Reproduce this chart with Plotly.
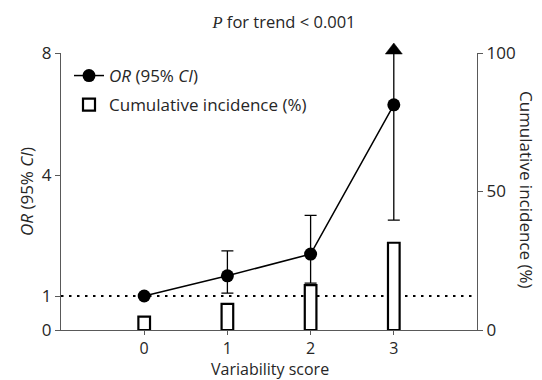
import numpy as np
import plotly.graph_objects as go

# ---- data ----
scores = [0, 1, 2, 3]
or_values = [1.00, 1.50, 2.04, 6.30]
ci_lower = [1.00, 1.07, 1.32, 2.88]
ci_upper = [1.00, 2.12, 3.00, None]   # None -> beyond axis (arrow)
incidence = [4.8, 9.4, 16.2, 31.5]
y_ticks = [0, 1, 4, 8]
y2_ticks = [0, 50, 100]

# segmented (piecewise) left axis as in the original figure
seg_vals = [0, 1, 4, 8]
seg_pos = [0, 34, 155, 277]


def seg(v):
    return float(np.interp(v, seg_vals, seg_pos))


top = seg(y_ticks[-1])
y_t = [seg(v) for v in or_values]
err_up = [(seg(u) if u is not None else top) - yt for u, yt in zip(ci_upper, y_t)]
err_dn = [yt - seg(lo) for lo, yt in zip(ci_lower, y_t)]
arrow_x = [s for s, u in zip(scores, ci_upper) if u is None]

FONT = "Open Sans"
TXT = "#262626"
AX = "#595959"
FS = 17
TFS = 16

# the page adds an 8px body margin; size the figure to the visible window
OFF = 8
W, H = 542 - OFF, 380 - OFF
ML, MT = 61 - OFF, 53 - OFF
MR, MB = W - (477 - OFF), H - (330 - OFF)
PW, PH = W - ML - MR, H - MT - MB
XR = [-1, 4]


def px_x(sx):  # screen x -> paper x
    return (sx - OFF - ML) / PW


def px_y(sy):  # screen y -> paper y
    return 1 - (sy - OFF - MT) / PH


fig = go.Figure()

fig.add_trace(go.Bar(
    x=scores, y=incidence, yaxis="y2", width=0.14,
    marker=dict(color="white", line=dict(color="black", width=2.2)),
    name="Cumulative incidence (%)", legendrank=2, legendgroup="b",
))

fig.add_trace(go.Scatter(
    x=scores, y=y_t, mode="lines+markers",
    line=dict(color="black", width=1.5),
    marker=dict(color="black", size=13),
    error_y=dict(type="data", array=err_up, arrayminus=err_dn,
                 color="black", thickness=1.3, width=6),
    name="<i>OR</i> (95% <i>CI</i>)", legendrank=1, legendgroup="a",
))

# arrow heads for CIs that run beyond the axis (drawn just above the plot top)
half_w = 8.5 / PW * (XR[1] - XR[0])
for ax_ in arrow_x:
    fig.add_shape(type="path", xref="x", yref="y domain", layer="above",
                  path=f"M {ax_ - half_w},{1 - 1 / PH} L {ax_ + half_w},{1 - 1 / PH} "
                       f"L {ax_},{1 + 10 / PH} Z",
                  fillcolor="black", line=dict(color="black", width=0.5))

fig.add_shape(type="line", xref="x domain", yref="y", x0=0, x1=1,
              y0=seg(1), y1=seg(1), layer="below",
              line=dict(color="black", width=2.2, dash="2.5px,5.5px"))

fig.update_layout(
    width=W, height=H,
    margin=dict(l=ML, r=MR, t=MT, b=MB, autoexpand=False),
    paper_bgcolor="white", plot_bgcolor="white",
    font=dict(family=FONT, size=FS, color=TXT),
    showlegend=True,
    legend=dict(x=8 / PW, y=1 - 50 / H, xref="paper", yref="container",
                xanchor="left", yanchor="top",
                bgcolor="rgba(0,0,0,0)", traceorder="grouped",
                tracegroupgap=4, font=dict(size=FS)),
    title=dict(text="<span style='font-family:Liberation Serif'><i>P</i></span> for trend &lt; 0.001",
               x=(284 - OFF) / W, xanchor="center",
               y=1 - (22 - OFF) / H, yanchor="middle",
               font=dict(size=16.5, color=TXT)),
    xaxis=dict(range=XR, tickvals=scores, ticks="outside", ticklen=4,
               tickcolor=AX, showline=True, linecolor=AX, linewidth=1.3,
               tickfont=dict(size=TFS),
               showgrid=False, zeroline=False),
    yaxis=dict(range=[0, top], tickvals=[seg(v) for v in y_ticks],
               ticktext=[str(v) for v in y_ticks], ticks="outside",
               ticklen=5, tickcolor=AX, showline=True, linecolor=AX,
               linewidth=1.3, showgrid=False, zeroline=False),
    yaxis2=dict(range=[0, 100], tickvals=y2_ticks, overlaying="y",
                side="right", ticks="outside", ticklen=5, tickcolor=AX,
                showline=True, linecolor=AX, linewidth=1.3,
                showgrid=False, zeroline=False),
    annotations=[
        dict(text="Variability score", xref="paper", yref="paper",
             x=px_x(270), y=px_y(369),
             xanchor="center", yanchor="middle", showarrow=False,
             font=dict(size=TFS, color=TXT)),
        dict(text="<i>OR</i> (95% <i>CI</i>)", textangle=-90,
             xref="paper", yref="paper",
             x=px_x(26), y=px_y(192),
             xanchor="center", yanchor="middle", showarrow=False,
             font=dict(size=FS, color=TXT)),
        dict(text="Cumulative incidence (%)", textangle=90,
             xref="paper", yref="paper",
             x=px_x(526), y=px_y(190),
             xanchor="center", yanchor="middle", showarrow=False,
             font=dict(size=FS, color=TXT)),
    ],
)

fig.write_html("out.html")
